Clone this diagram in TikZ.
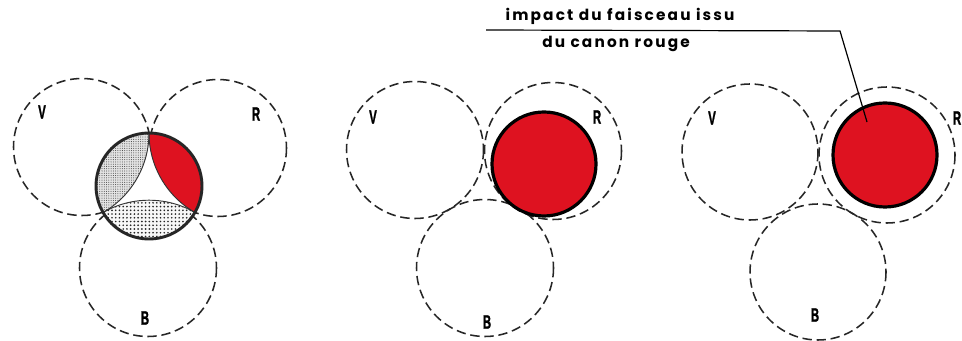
\documentclass[tikz,border=0pt]{standalone}
\usepackage{fontspec}
\usepackage{graphicx}
\usetikzlibrary{patterns.meta}
\newfontfamily\capfont[LetterSpace=14]{Poppins}
\newfontfamily\lblfont[BoldFeatures={FakeBold=1.5}]{Liberation Sans}
\definecolor{canonred}{RGB}{222,18,32}
\begin{document}
\begin{tikzpicture}[x=0.75pt,y=-0.75pt,
  ring/.style={draw=black!85, line width=1.15pt, dash pattern=on 7pt off 3.6pt},
  lbl/.style={font=\lblfont\bfseries\fontsize{14.5}{16}\selectfont, inner sep=0pt},
  caption/.style={font=\capfont\bfseries\fontsize{11.5}{13}\selectfont, inner sep=0pt, anchor=base},
  impact/.style={fill=canonred, draw=black, line width=2.4pt},
  leader/.style={draw=black, line width=0.9pt}]
\useasboundingbox (0,0) rectangle (962,341);
\fill[white] (0,0) rectangle (962,341);

% ---------- panel 1 ----------
\draw[ring] (82,147) circle[radius=68.5];
\draw[ring] (218,148) circle[radius=68.5];
\draw[ring] (148,268) circle[radius=68.5];
\begin{scope}
  \clip (149,186) circle[radius=53];
  \fill[white] (149,186) circle[radius=53];
  \fill[gray!22] (57.2,133) circle[radius=91.8];
  \fill[pattern={Dots[distance=1.7pt,radius=0.38pt]}, pattern color=black!75] (57.2,133) circle[radius=91.8];
  \fill[canonred] (240.8,133) circle[radius=91.8];
  \fill[gray!6] (149,292) circle[radius=91.8];
  \fill[pattern={Dots[distance=2.8pt,radius=0.7pt]}, pattern color=black!85] (149,292) circle[radius=91.8];
  \draw[line width=0.7pt, black!80] (57.2,133) circle[radius=91.8];
  \draw[line width=0.7pt, black!80] (240.8,133) circle[radius=91.8];
  \draw[line width=0.7pt, black!80] (149,292) circle[radius=91.8];
\end{scope}
\draw[black!85, line width=2.2pt] (149,186) circle[radius=53];
\node[lbl] (v1) at (42,112) {\scalebox{0.6}[1]{V}};
\node[lbl] (r1) at (256,114) {\scalebox{0.6}[1]{R}};
\node[lbl] (b1) at (145,318) {\scalebox{0.6}[1]{B}};

% ---------- panel 2 ----------
\draw[ring] (415,150) circle[radius=68.5];
\draw[ring] (553,151) circle[radius=68.5];
\draw[ring] (485,268) circle[radius=68.5];
\draw[impact] (544,164) circle[radius=52];
\node[lbl] (v2) at (373,117) {\scalebox{0.6}[1]{V}};
\node[lbl] (r2) at (597,117) {\scalebox{0.6}[1]{R}};
\node[lbl] (b2) at (487,322) {\scalebox{0.6}[1]{B}};

% ---------- panel 3 ----------
\draw[ring] (750,152) circle[radius=68];
\draw[ring] (887,155) circle[radius=68];
\draw[ring] (818,272) circle[radius=68];
\draw[impact] (885,155) circle[radius=52];
\node[lbl] (v3) at (712,118) {\scalebox{0.6}[1]{V}};
\node[lbl] (r3) at (957,118) {\scalebox{0.6}[1]{R}};
\node[lbl] (b3) at (815,315) {\scalebox{0.6}[1]{B}};

% ---------- caption and leader ----------
\node[caption] (t1) at (620,21) {impact du faisceau issu};
\node[caption] (t2) at (616,48) {du canon rouge};
\coordinate (ls) at (486,30);
\coordinate (lk) at (840,31);
\coordinate (le) at (867,122);
\draw[leader] (ls) -- (lk) -- (le);
\end{tikzpicture}
\end{document}
